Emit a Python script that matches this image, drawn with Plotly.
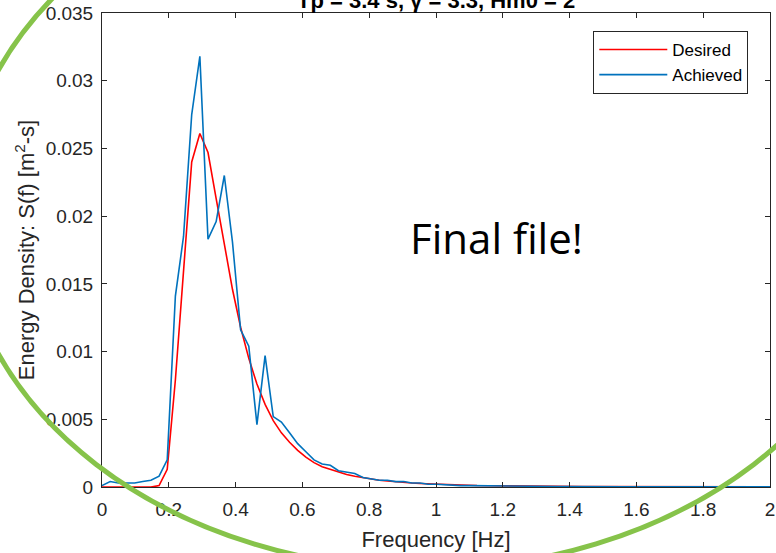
import plotly.graph_objects as go

# ---- data ----
freq = [0.0, 0.0244, 0.0488, 0.0732, 0.0977, 0.1221, 0.1465, 0.1709, 0.1953, 0.2197,
        0.2441, 0.2686, 0.2930, 0.3174, 0.3418, 0.3662, 0.3906, 0.4150, 0.4395, 0.4639,
        0.4883, 0.5127, 0.5371, 0.5615, 0.5859, 0.6104, 0.6348, 0.6592, 0.6836, 0.7080,
        0.7324, 0.7568, 0.7813, 0.8057, 0.8301, 0.8545, 0.8789, 0.9033, 0.9277, 0.9521,
        0.9766, 1.0010, 1.0254, 1.0498, 1.0742, 1.0986, 1.1230, 1.1475, 1.1719, 1.1963,
        1.2207, 1.2451, 1.2695, 1.2939, 1.3184, 1.3428, 1.3672, 1.3916, 1.4160, 1.4404,
        1.4648, 1.4893, 1.5137, 1.5381, 1.5625, 1.5869, 1.6113, 1.6357, 1.6602, 1.6846,
        1.7090, 1.7334, 1.7578, 1.7822, 1.8066, 1.8311, 1.8555, 1.8799, 1.9043, 1.9287,
        1.9531, 1.9775, 2.0020]

desired = [0, 0, 0, 0, 0, 0, 0, 0.0001, 0.0013, 0.0079,
           0.0163, 0.0240, 0.0261, 0.0247, 0.0213, 0.0180, 0.0146, 0.0118, 0.0095, 0.0076,
           0.0061, 0.0049, 0.0040, 0.0033, 0.0027, 0.0022, 0.0018, 0.0015, 0.0013, 0.0011,
           0.00092, 0.00079, 0.00068, 0.00058, 0.00050, 0.00044, 0.00038, 0.00033, 0.00029, 0.00026,
           0.00023, 0.00020, 0.00018, 0.00016, 0.00014, 0.00013, 0.00011, 0.00010, 0.00009, 0.00008,
           0.00008, 0.00007, 0.00006, 0.00006, 0.00005, 0.00005, 0.00004, 0.00004, 0.00004, 0.00003,
           0.00003, 0.00003, 0.00003, 0.00002, 0.00002, 0.00002, 0.00002, 0.00002, 0.00002, 0.00001,
           0.00001, 0.00001, 0.00001, 0.00001, 0.00001, 0.00001, 0.00001, 0.00001, 0.00001, 0.00001,
           0.00001, 0.00001, 0.00001]

achieved = [0.0001, 0.0004, 0.0003, 0.0003, 0.0003, 0.0004, 0.0005, 0.0008, 0.0020, 0.0141,
            0.0185, 0.0275, 0.0318, 0.0183, 0.0196, 0.0230, 0.0181, 0.0116, 0.0104, 0.0046,
            0.0097, 0.0052, 0.0048, 0.0040, 0.0032, 0.0026, 0.0020, 0.0017, 0.0016, 0.0012,
            0.0011, 0.0010, 0.0007, 0.0006, 0.0005, 0.0005, 0.0004, 0.0004, 0.0003, 0.0003,
            0.0002, 0.0002, 0.00015, 0.00012, 0.00010, 0.00010, 0.00009, 0.00008, 0.00007, 0.00007,
            0.00006, 0.00006, 0.00005, 0.00005, 0.00005, 0.00004, 0.00004, 0.00004, 0.00003, 0.00003,
            0.00003, 0.00003, 0.00003, 0.00002, 0.00002, 0.00002, 0.00002, 0.00002, 0.00002, 0.00002,
            0.00002, 0.00002, 0.00002, 0.00002, 0.00002, 0.00002, 0.00002, 0.00002, 0.00002, 0.00002,
            0.00002, 0.00002, 0.00002]

x_ticks = [0, 0.2, 0.4, 0.6, 0.8, 1, 1.2, 1.4, 1.6, 1.8, 2]
x_tick_labels = ["0", "0.2", "0.4", "0.6", "0.8", "1", "1.2", "1.4", "1.6", "1.8", "2"]
y_ticks = [0, 0.005, 0.01, 0.015, 0.02, 0.025, 0.03, 0.035]
y_tick_labels = ["0", "0.005", "0.01", "0.015", "0.02", "0.025", "0.03", "0.035"]

title_text = "Tp = 3.4 s, γ = 3.3, Hm0 = 2"
note_text = "Final file!"

# ---- figure ----
FONT = "Liberation Sans, Arial, sans-serif"
AX = "#262626"

fig = go.Figure()
fig.add_trace(go.Scatter(x=freq, y=desired, mode="lines", name="Desired",
                         line=dict(color="#FF0000", width=1.6)))
fig.add_trace(go.Scatter(x=freq, y=achieved, mode="lines", name="Achieved",
                         line=dict(color="#0072BD", width=1.6)))

axis_common = dict(showline=True, linecolor=AX, linewidth=1, mirror="ticks",
                   ticks="inside", ticklen=5, tickcolor=AX, tickwidth=1,
                   showgrid=False, zeroline=False, automargin=False,
                   tickfont=dict(family=FONT, size=19, color=AX))

fig.update_xaxes(range=[0, 2], tickvals=x_ticks, ticktext=x_tick_labels,
                 title=dict(text="Frequency [Hz]", font=dict(family=FONT, size=22, color=AX),
                            standoff=12),
                 ticklabelstandoff=5, **axis_common)
fig.update_yaxes(range=[0, 0.035], tickvals=y_ticks, ticktext=y_tick_labels,
                 title=dict(text="Energy Density: S(f) [m<sup>2</sup>-s]",
                            font=dict(family=FONT, size=22, color=AX), standoff=4),
                 ticklabelstandoff=4, **axis_common)

fig.update_layout(
    width=776, height=553,
    margin=dict(l=102, r=6, t=13, b=66, autoexpand=False),
    paper_bgcolor="white", plot_bgcolor="white",
    showlegend=True,
    legend=dict(x=0.9675, xanchor="right", y=0.962, yanchor="top",
                bgcolor="white", bordercolor=AX, borderwidth=1,
                font=dict(family=FONT, size=17, color="black"),
                itemwidth=68, tracegroupgap=0),
    annotations=[
        dict(text="<b>" + title_text + "</b>", xref="paper", yref="paper",
             x=0.5, y=1.0255, xanchor="center", yanchor="middle", showarrow=False,
             font=dict(family=FONT, size=22, color="black")),
        dict(text=note_text, xref="paper", yref="paper", x=0.59, y=0.527,
             xanchor="center", yanchor="middle", showarrow=False,
             font=dict(family="Open Sans, Noto Sans, sans-serif", size=42, color="black")),
    ],
    shapes=[
        dict(type="circle", xref="paper", yref="paper",
             x0=-0.2126, x1=1.1796, y0=-0.1730, y1=1.3333,
             line=dict(color="#86C34A", width=5), layer="above"),
    ],
)

fig.write_html("out.html", config={"displayModeBar": False},
               post_script="document.body.style.margin='0';document.body.style.padding='0';")
